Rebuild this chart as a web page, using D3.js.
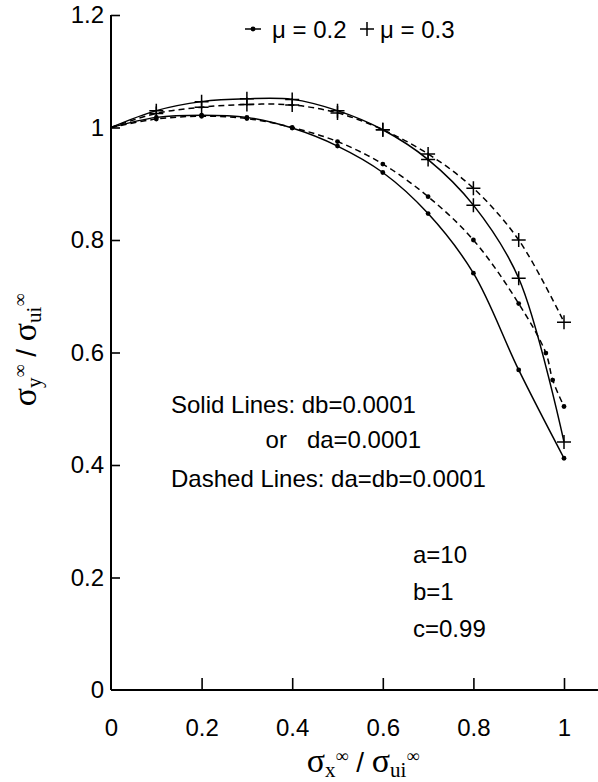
<!DOCTYPE html>
<html>
<head>
<meta charset="utf-8">
<script src="https://cdn.jsdelivr.net/npm/d3@7"></script>
<style>
  body { margin: 0; background: #fff; }
  svg { display: block; }
  .tick text { font-family: "Liberation Sans", Arial, sans-serif; font-size: 24px; fill: #000; }
  .note { font-family: "Liberation Sans", Arial, sans-serif; font-size: 24px; fill: #000; }
  .lbl { font-family: "Liberation Serif", "Times New Roman", serif; fill: #000; }
</style>
</head>
<body>
<svg id="chart" width="598" height="782"></svg>
<script>
// x positions of the computed points
const xs = [0, 0.1, 0.2, 0.3, 0.4, 0.5, 0.6, 0.7, 0.8, 0.9, 1.0]

// mu = 0.2
const mu02Solid = [1.0, 1.018, 1.022, 1.018, 0.999, 0.967, 0.920, 0.847, 0.741, 0.569, 0.412]
const mu02DashedX = [0, 0.1, 0.2, 0.3, 0.4, 0.5, 0.6, 0.7, 0.8, 0.9, 0.96, 0.975, 1.0]
const mu02Dashed = [1.0, 1.015, 1.020, 1.016, 1.000, 0.975, 0.935, 0.877, 0.800, 0.687, 0.599, 0.551, 0.504]

// mu = 0.3
const mu03Solid = [1.0, 1.030, 1.046, 1.051, 1.050, 1.030, 0.996, 0.943, 0.862, 0.732, 0.441]
const mu03Dashed = [1.0, 1.025, 1.036, 1.041, 1.040, 1.026, 0.996, 0.953, 0.892, 0.800, 0.654]

const xTicks = [0, 0.2, 0.4, 0.6, 0.8, 1]
const yTicks = [0, 0.2, 0.4, 0.6, 0.8, 1, 1.2]

const notes = [
  { text: 'Solid Lines: db=0.0001', x: 171, y: 413, anchor: 'start' },
  { text: 'or   da=0.0001', x: 421, y: 448, anchor: 'end' },
  { text: 'Dashed Lines: da=db=0.0001', x: 171, y: 487, anchor: 'start' },
  { text: 'a=10', x: 413, y: 563, anchor: 'start' },
  { text: 'b=1', x: 413, y: 600, anchor: 'start' },
  { text: 'c=0.99', x: 413, y: 637, anchor: 'start' }
]

const svg = d3.select('#chart')

const x = d3.scaleLinear().domain([0, 1]).range([111, 564])
const y = d3.scaleLinear().domain([0, 1.2]).range([690, 15])

// axes
const gx = svg.append('g').attr('transform', 'translate(0,' + y(0) + ')')
  .call(d3.axisBottom(x).tickValues(xTicks).tickFormat(d3.format('~g'))
    .tickSizeInner(-12).tickSizeOuter(0).tickPadding(29))
gx.select('.domain').remove()
gx.selectAll('.tick line').filter(d => d === 0).remove()
gx.selectAll('.tick line').attr('stroke-width', 1.6)
svg.append('line')
  .attr('x1', x(0)).attr('x2', x(1.075))
  .attr('y1', y(0)).attr('y2', y(0))
  .attr('stroke', '#000').attr('stroke-width', 2)

const gy = svg.append('g').attr('transform', 'translate(' + x(0) + ',0)')
  .call(d3.axisLeft(y).tickValues(yTicks).tickFormat(d3.format('~g'))
    .tickSizeInner(-9).tickSizeOuter(0).tickPadding(7))
gy.select('.domain').remove()
gy.selectAll('.tick line').filter(d => d === 0).remove()
gy.selectAll('.tick line').attr('stroke-width', 1.6)
svg.append('line')
  .attr('x1', x(0)).attr('x2', x(0))
  .attr('y1', y(0)).attr('y2', y(1.2))
  .attr('stroke', '#000').attr('stroke-width', 2)

// curves
const line = d3.line()
  .x(d => x(d[0]))
  .y(d => y(d[1]))
  .curve(d3.curveCatmullRom.alpha(0.5))

const series = [
  { xv: xs, yv: mu02Solid, dash: null, mark: 'dot' },
  { xv: mu02DashedX, yv: mu02Dashed, dash: '6,4', mark: 'dot' },
  { xv: xs, yv: mu03Solid, dash: null, mark: 'plus' },
  { xv: xs, yv: mu03Dashed, dash: '6,4', mark: 'plus' }
]

series.forEach(s => {
  const pts = s.xv.map((v, i) => [v, s.yv[i]])
  svg.append('path')
    .datum(pts)
    .attr('d', line)
    .attr('fill', 'none')
    .attr('stroke', '#000')
    .attr('stroke-width', 1.5)
    .attr('stroke-dasharray', s.dash)

  const marks = pts.slice(1)
  if (s.mark === 'dot') {
    svg.append('g').selectAll('circle')
      .data(marks)
      .enter()
      .append('circle')
      .attr('cx', d => x(d[0]))
      .attr('cy', d => y(d[1]))
      .attr('r', 2.4)
      .attr('fill', '#000')
  } else {
    svg.append('g').selectAll('path')
      .data(marks)
      .enter()
      .append('path')
      .attr('d', d => {
        const cx = x(d[0]), cy = y(d[1])
        return 'M' + (cx - 7) + ',' + cy + 'H' + (cx + 7) + 'M' + cx + ',' + (cy - 7) + 'V' + (cy + 7)
      })
      .attr('stroke', '#000')
      .attr('stroke-width', 1.5)
  }
})

// legend
const lg = svg.append('g')
lg.append('line').attr('x1', 245).attr('x2', 261).attr('y1', 29).attr('y2', 29)
  .attr('stroke', '#000').attr('stroke-width', 1.5)
lg.append('circle').attr('cx', 253).attr('cy', 29).attr('r', 2.4)
lg.append('text').attr('class', 'note').attr('x', 272).attr('y', 38).text('μ = 0.2')
lg.append('path').attr('d', 'M360,29H374M367,22V36').attr('stroke', '#000').attr('stroke-width', 1.5)
lg.append('text').attr('class', 'note').attr('x', 380).attr('y', 38).text('μ = 0.3')

// notes
svg.selectAll('text.n')
  .data(notes)
  .enter()
  .append('text')
  .attr('class', 'note')
  .attr('x', d => d.x)
  .attr('y', d => d.y)
  .attr('text-anchor', d => d.anchor)
  .attr('xml:space', 'preserve')
  .style('white-space', 'pre')
  .text(d => d.text)

// axis titles
function sigmaLabel (g, sub) {
  const t = g.append('text').attr('class', 'lbl').attr('text-anchor', 'middle')
  t.append('tspan').attr('font-size', 34).text('σ')
  t.append('tspan').attr('font-size', 21).attr('dy', 5).text(sub)
  t.append('tspan').attr('font-size', 18).attr('dy', -15).text('∞')
  t.append('tspan').attr('font-size', 28).attr('font-family', 'Liberation Sans, Arial, sans-serif').attr('dy', 10).text(' / ')
  t.append('tspan').attr('font-size', 34).text('σ')
  t.append('tspan').attr('font-size', 21).attr('dy', 5).text('ui')
  t.append('tspan').attr('font-size', 18).attr('dy', -15).text('∞')
  return t
}

sigmaLabel(svg.append('g').attr('transform', 'translate(363,772)'), 'x')
sigmaLabel(svg.append('g').attr('transform', 'translate(36,350) rotate(-90)'), 'y')
</script>
</body>
</html>
